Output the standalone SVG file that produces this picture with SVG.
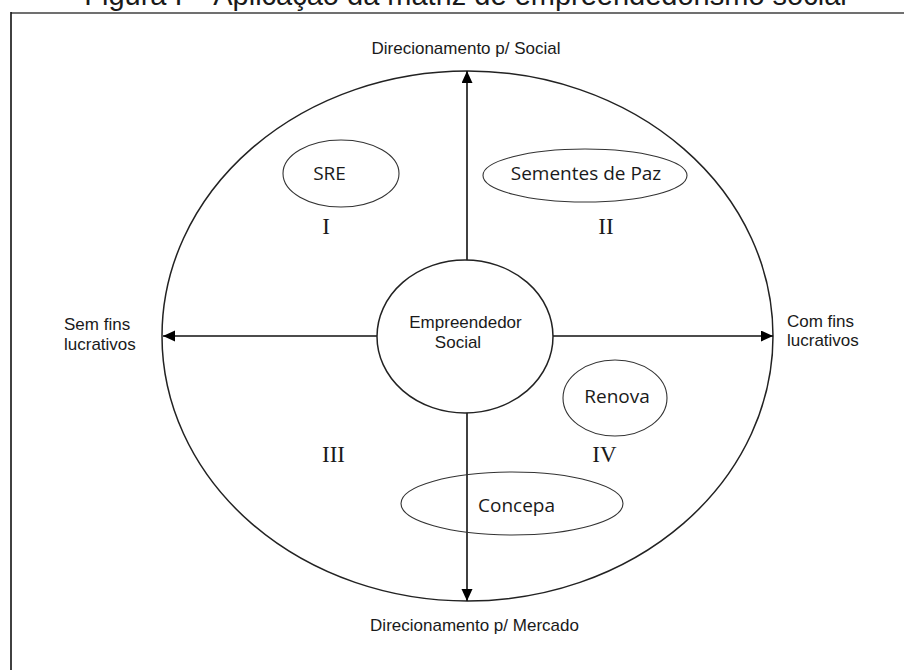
<svg xmlns="http://www.w3.org/2000/svg" width="904" height="670" viewBox="0 0 904 670">
  <style>
    .sans { font-family: "Liberation Sans", Arial, sans-serif; fill: #1a1a1a; }
    .cal { font-family: "Open Sans", "Noto Sans", sans-serif; fill: #1a1a1a; font-size: 19px; text-anchor: middle; }
    .rom { font-family: "Liberation Serif", "Times New Roman", serif; fill: #1a1a1a; font-size: 23px; text-anchor: middle; }
    .axis { stroke: #111; stroke-width: 1.6; fill: none; }
    .small { fill: none; stroke: #333; stroke-width: 1.1; }
  </style>
  <defs>
    <marker id="arrow" markerUnits="userSpaceOnUse" markerWidth="13" markerHeight="12" refX="12" refY="5.5" orient="auto">
      <path d="M0,0 L12,5.5 L0,11 z" fill="#000"/>
    </marker>
  </defs>
  <rect width="904" height="670" fill="#fff"/>

  <!-- title (clipped at top) -->
  <text class="sans" x="465.5" y="5" font-size="29" text-anchor="middle">Figura I – Aplicação da matriz de empreendedorismo social</text>

  <!-- frame -->
  <line x1="11" y1="13" x2="904" y2="13" stroke="#707070" stroke-width="2"/>
  <line x1="11" y1="12" x2="11" y2="670" stroke="#111" stroke-width="1.6"/>

  <!-- outer ellipse -->
  <g id="matrix">
    <ellipse cx="467.5" cy="336" rx="305.5" ry="265" fill="none" stroke="#222" stroke-width="1.5"/>
  </g>

  <!-- connectors -->
  <g id="connectors">
    <line class="axis" x1="467" y1="336" x2="467" y2="71" marker-end="url(#arrow)"/>
    <line class="axis" x1="467" y1="336" x2="467" y2="601" marker-end="url(#arrow)"/>
    <line class="axis" x1="467" y1="336" x2="163" y2="336" marker-end="url(#arrow)"/>
    <line class="axis" x1="467" y1="336" x2="773" y2="336" marker-end="url(#arrow)"/>
  </g>

  <!-- central node -->
  <g id="empreendedor-social">
    <ellipse cx="465" cy="336.5" rx="88" ry="76.5" fill="#fff" stroke="#222" stroke-width="1.5"/>
    <text class="sans" x="465.5" y="328" font-size="17" text-anchor="middle">Empreendedor</text>
    <text class="sans" x="458" y="348" font-size="17" text-anchor="middle">Social</text>
  </g>

  <g id="sre">
    <ellipse class="small" cx="341" cy="173.5" rx="58" ry="33.5"/>
    <text class="cal" x="329.5" y="180">SRE</text>
  </g>
  <g id="sementes">
    <ellipse class="small" cx="585" cy="175.5" rx="102" ry="26.5"/>
    <text class="cal" x="586" y="180">Sementes de Paz</text>
  </g>
  <g id="renova">
    <ellipse class="small" cx="615" cy="398" rx="52" ry="38"/>
    <text class="cal" x="617" y="403">Renova</text>
  </g>
  <g id="concepa">
    <ellipse class="small" cx="512" cy="503.5" rx="111" ry="31.5"/>
    <text class="cal" x="516.5" y="512">Concepa</text>
  </g>

  <!-- quadrant numerals -->
  <g id="quadrants">
    <text class="rom" x="326" y="234">I</text>
    <text class="rom" x="606" y="234">II</text>
    <text class="rom" x="333.5" y="462">III</text>
    <text class="rom" x="604.5" y="462">IV</text>
  </g>

  <!-- axis labels -->
  <g id="labels">
    <text class="sans" x="466" y="54" font-size="17" text-anchor="middle">Direcionamento p/ Social</text>
    <text class="sans" x="474.5" y="631" font-size="17" text-anchor="middle">Direcionamento p/ Mercado</text>
    <text class="sans" x="64" y="330" font-size="17">Sem fins</text>
    <text class="sans" x="64" y="350" font-size="17">lucrativos</text>
    <text class="sans" x="787" y="327" font-size="17">Com fins</text>
    <text class="sans" x="787" y="346" font-size="17">lucrativos</text>
  </g>
</svg>
